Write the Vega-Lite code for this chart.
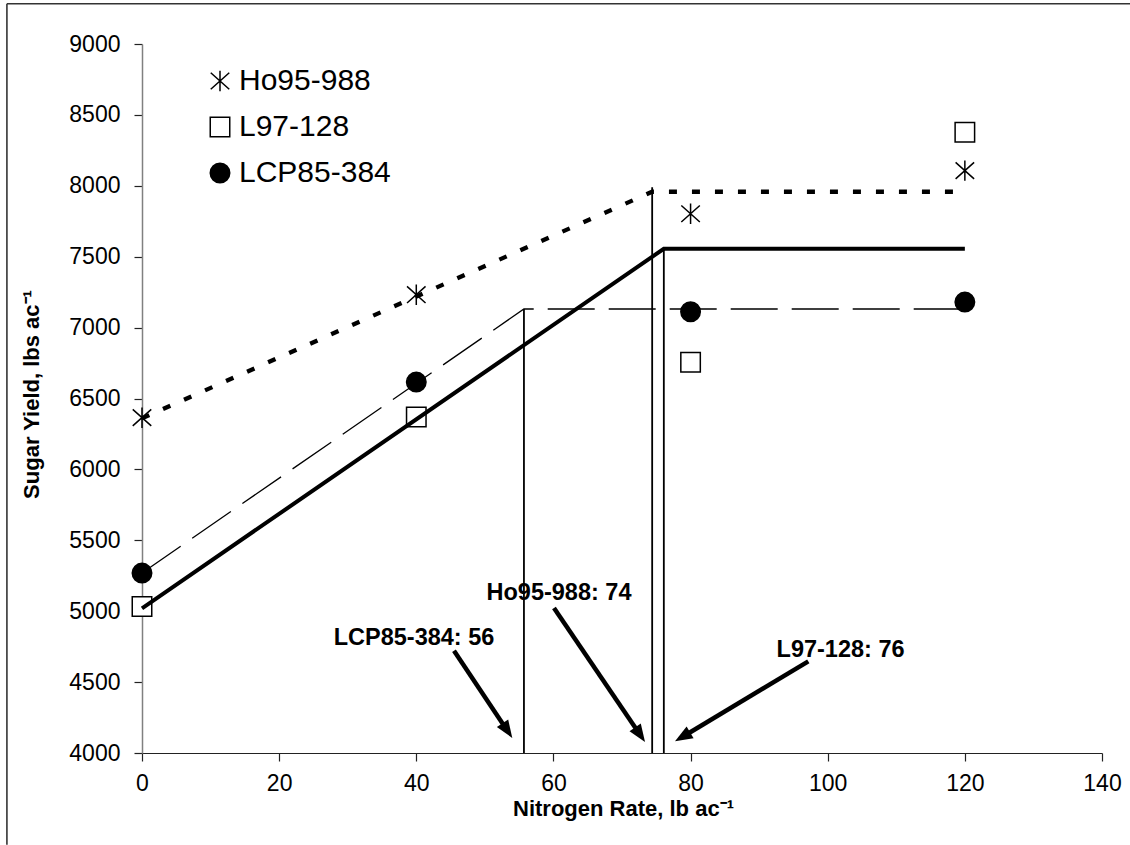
{
  "$schema": "https://vega.github.io/schema/vega-lite/v6.json",
  "width": 960,
  "height": 709,
  "autosize": {"type": "none"},
  "padding": {"left": 142, "top": 44, "right": 28, "bottom": 92},
  "background": "white",
  "config": {
    "font": "Liberation Sans",
    "view": {"stroke": null},
    "axis": {"grid": false, "labelFlush": false, "labelOverlap": false, "labelFont": "Liberation Sans", "labelFontSize": 23, "labelColor": "black", "titleFont": "Liberation Sans", "titleFontSize": 22, "titleFontWeight": "bold", "titleColor": "black", "tickSize": 8, "tickColor": "#222", "tickWidth": 1.2}
  },
  "datasets": {
    "obs": [
      {"variety": "Ho95-988", "n": 0, "yield": 6365},
      {"variety": "Ho95-988", "n": 40, "yield": 7232},
      {"variety": "Ho95-988", "n": 80, "yield": 7803},
      {"variety": "Ho95-988", "n": 120, "yield": 8107},
      {"variety": "L97-128", "n": 0, "yield": 5034},
      {"variety": "L97-128", "n": 40, "yield": 6369},
      {"variety": "L97-128", "n": 80, "yield": 6755},
      {"variety": "L97-128", "n": 120, "yield": 8377},
      {"variety": "LCP85-384", "n": 0, "yield": 5269},
      {"variety": "LCP85-384", "n": 40, "yield": 6616},
      {"variety": "LCP85-384", "n": 80, "yield": 7112},
      {"variety": "LCP85-384", "n": 120, "yield": 7180}
    ],
    "fits": [
      {"variety": "Ho95-988", "n": 0, "yield": 6360},
      {"variety": "Ho95-988", "n": 74.4, "yield": 7958},
      {"variety": "Ho95-988", "n": 120, "yield": 7958},
      {"variety": "L97-128", "n": 0, "yield": 5020},
      {"variety": "L97-128", "n": 76.1, "yield": 7556},
      {"variety": "L97-128", "n": 120, "yield": 7556},
      {"variety": "LCP85-384", "n": 0, "yield": 5270},
      {"variety": "LCP85-384", "n": 55.7, "yield": 7131},
      {"variety": "LCP85-384", "n": 120, "yield": 7131}
    ],
    "optima": [
      {"variety": "LCP85-384", "n": 55.7, "bottom": 4000, "top": 7131},
      {"variety": "Ho95-988", "n": 74.4, "bottom": 4000, "top": 7990},
      {"variety": "L97-128", "n": 76.1, "bottom": 4000, "top": 7556}
    ],
    "arrows": [
      {"label": "LCP85-384: 56", "lx": 39.67, "ly": 4762, "x1": 45.5, "y1": 4721, "x2": 53.19, "y2": 4164, "tx": 54.0, "ty": 4106, "angle": 146.3},
      {"label": "Ho95-988: 74", "lx": 60.81, "ly": 5076, "x1": 60.08, "y1": 5023, "x2": 72.54, "y2": 4136, "tx": 73.36, "ty": 4078, "angle": 145.8},
      {"label": "L97-128: 76", "lx": 101.87, "ly": 4677, "x1": 97.17, "y1": 4646, "x2": 78.98, "y2": 4118, "tx": 77.73, "ty": 4082, "angle": 239.05}
    ],
    "frame": [
      {"x1": -19.7, "y1": 9284, "x2": 144.1, "y2": 9284},
      {"x1": -19.7, "y1": 9284, "x2": -19.7, "y2": 3353}
    ]
  },
  "layer": [
    {
      "data": {"name": "frame"},
      "mark": {"type": "rule", "color": "#333", "strokeWidth": 1.6},
      "encoding": {
        "x": {"field": "x1", "type": "quantitative", "scale": {"domain": [0, 140], "nice": false}, "axis": {"values": [0, 20, 40, 60, 80, 100, 120, 140], "format": "d", "title": "Nitrogen Rate, lb ac⁻¹", "domainColor": "#222", "domainWidth": 1.2, "labelPadding": 11, "titleX": 481, "titleY": 62, "titleBaseline": "alphabetic", "titleAnchor": "middle"}},
        "y": {"field": "y1", "type": "quantitative", "scale": {"domain": [4000, 9000], "nice": false, "zero": false}, "axis": {"values": [4000, 4500, 5000, 5500, 6000, 6500, 7000, 7500, 8000, 8500, 9000], "format": "d", "title": "Sugar Yield, lbs ac⁻¹", "domainColor": "#808080", "domainWidth": 1.5, "labelPadding": 14, "titleX": -111, "titleY": 350, "titleAngle": -90, "titleBaseline": "middle", "titleAnchor": "middle"}},
        "x2": {"field": "x2"},
        "y2": {"field": "y2"}
      }
    },
    {
      "data": {"name": "obs"},
      "mark": {"type": "point", "filled": true, "strokeWidth": 1.5, "size": 380, "opacity": 1},
      "encoding": {
        "x": {"field": "n", "type": "quantitative"},
        "y": {"field": "yield", "type": "quantitative"},
        "shape": {"field": "variety", "type": "nominal", "scale": {"domain": ["Ho95-988", "L97-128", "LCP85-384"], "range": ["M0,-1.05L0,1.05M-0.95,-0.85L0.95,0.85M-0.95,0.85L0.95,-0.85", "square", "circle"]}, "legend": {"orient": "none", "legendX": 63, "legendY": 22, "title": null, "labelFontSize": 30, "labelFont": "Liberation Sans", "labelColor": "black", "symbolSize": 380, "symbolStrokeWidth": 1.5, "labelOffset": 4, "rowPadding": 16, "padding": 0}},
        "fill": {"field": "variety", "type": "nominal", "scale": {"domain": ["Ho95-988", "L97-128", "LCP85-384"], "range": ["white", "white", "black"]}, "legend": {"orient": "none", "legendX": 63, "legendY": 22, "title": null, "labelFontSize": 30, "labelFont": "Liberation Sans", "labelColor": "black", "symbolSize": 380, "symbolStrokeWidth": 1.5, "labelOffset": 4, "rowPadding": 16, "padding": 0}},
        "stroke": {"field": "variety", "type": "nominal", "scale": {"domain": ["Ho95-988", "L97-128", "LCP85-384"], "range": ["black", "black", "black"]}, "legend": {"orient": "none", "legendX": 63, "legendY": 22, "title": null, "labelFontSize": 30, "labelFont": "Liberation Sans", "labelColor": "black", "symbolSize": 380, "symbolStrokeWidth": 1.5, "labelOffset": 4, "rowPadding": 16, "padding": 0}}
      }
    },
    {
      "data": {"name": "fits"},
      "transform": [{"filter": "datum.variety === 'LCP85-384'"}],
      "mark": {"type": "line", "color": "black", "strokeWidth": 1.3, "strokeDash": [47, 14]},
      "encoding": {"x": {"field": "n", "type": "quantitative"}, "y": {"field": "yield", "type": "quantitative"}}
    },
    {
      "data": {"name": "fits"},
      "transform": [{"filter": "datum.variety === 'L97-128'"}],
      "mark": {"type": "line", "color": "black", "strokeWidth": 4},
      "encoding": {"x": {"field": "n", "type": "quantitative"}, "y": {"field": "yield", "type": "quantitative"}}
    },
    {
      "data": {"name": "fits"},
      "transform": [{"filter": "datum.variety === 'Ho95-988'"}],
      "mark": {"type": "line", "color": "black", "strokeWidth": 4.3, "strokeDash": [8, 15]},
      "encoding": {"x": {"field": "n", "type": "quantitative"}, "y": {"field": "yield", "type": "quantitative"}}
    },
    {
      "data": {"name": "optima"},
      "mark": {"type": "rule", "color": "black", "strokeWidth": 1.8},
      "encoding": {
        "x": {"field": "n", "type": "quantitative"},
        "y": {"field": "bottom", "type": "quantitative"},
        "y2": {"field": "top"}
      }
    },
    {
      "data": {"name": "arrows"},
      "mark": {"type": "rule", "color": "black", "strokeWidth": 4.5},
      "encoding": {
        "x": {"field": "x1", "type": "quantitative"},
        "y": {"field": "y1", "type": "quantitative"},
        "x2": {"field": "x2"},
        "y2": {"field": "y2"}
      }
    },
    {
      "data": {"name": "arrows"},
      "mark": {"type": "point", "shape": "M0,0L-0.85,2.2L0.85,2.2Z", "size": 256, "filled": true, "color": "black", "opacity": 1},
      "encoding": {
        "x": {"field": "tx", "type": "quantitative"},
        "y": {"field": "ty", "type": "quantitative"},
        "angle": {"field": "angle", "type": "quantitative", "scale": null}
      }
    },
    {
      "data": {"name": "arrows"},
      "mark": {"type": "text", "font": "Liberation Sans", "fontWeight": "bold", "fontSize": 23.5, "align": "center", "baseline": "alphabetic", "color": "black"},
      "encoding": {
        "x": {"field": "lx", "type": "quantitative"},
        "y": {"field": "ly", "type": "quantitative"},
        "text": {"field": "label"}
      }
    }
  ]
}
